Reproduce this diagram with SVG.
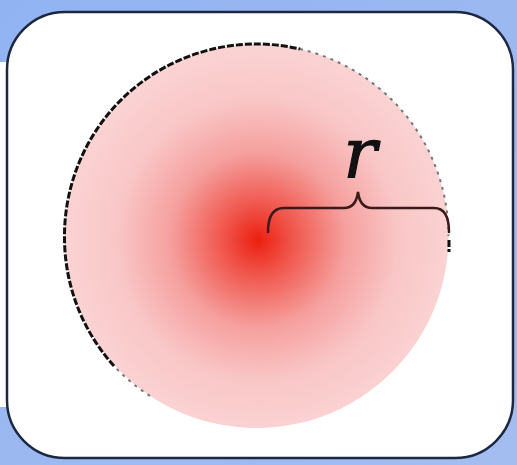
<svg xmlns="http://www.w3.org/2000/svg" width="517" height="465" viewBox="0 0 517 465">
  <defs>
    <radialGradient id="glow" gradientUnits="userSpaceOnUse" cx="258" cy="240" r="195">
      <stop offset="0" stop-color="#ec1f10"/>
      <stop offset="0.18" stop-color="#f0564c"/>
      <stop offset="0.45" stop-color="#f5a09e"/>
      <stop offset="0.72" stop-color="#f9c6c6"/>
      <stop offset="1" stop-color="#fbd3d3"/>
    </radialGradient>
    <linearGradient id="bg" x1="0" y1="0" x2="1" y2="1">
      <stop offset="0" stop-color="#92b3f2"/>
      <stop offset="1" stop-color="#a4bdf0"/>
    </linearGradient>
  </defs>
  <style>
    .frame { fill: #ffffff; stroke: #1c2840; stroke-width: 2.5; }
    .outline { fill: none; stroke: #111111; stroke-width: 3; stroke-dasharray: 7 2; }
    .dots { fill: none; stroke: #777777; stroke-width: 2; stroke-dasharray: 3 5; }
    .brace { fill: none; stroke: #3a1a1a; stroke-width: 2.5; stroke-linecap: round; }
    .lbl { font-family: "DejaVu Serif", "Liberation Serif", serif; font-style: italic; font-size: 70px; fill: #111111; stroke: #111111; stroke-width: 1.2; }
  </style>
  <rect x="0" y="0" width="517" height="465" fill="url(#bg)"/>
  <rect x="0" y="62" width="8" height="345" fill="#ffffff"/>
  <g id="frame">
    <rect class="frame" x="7" y="12" width="506" height="446" rx="58" ry="58"/>
  </g>
  <g id="disk">
    <circle cx="256.5" cy="236" r="192" fill="url(#glow)"/>
    <path class="outline" d="M 114 366 A 192 192 0 0 1 64.5 236 A 192 192 0 0 1 300 49"/>
    <path class="dots" d="M 300 49 A 192 192 0 0 1 448.5 236"/>
    <path class="dots" d="M 150 396 A 192 192 0 0 1 114 366"/>
    <path class="outline" d="M 449 240 L 449 252"/>
  </g>
  <g id="connectors">
    <path class="brace" d="M 268 232 Q 268 208 284 208 L 344 208 Q 356 208 358 192 Q 360 208 372 208 L 434 208 Q 449 208 449 232"/>
  </g>
  <g id="label">
    <text class="lbl" x="360" y="177" text-anchor="middle">r</text>
  </g>
</svg>
